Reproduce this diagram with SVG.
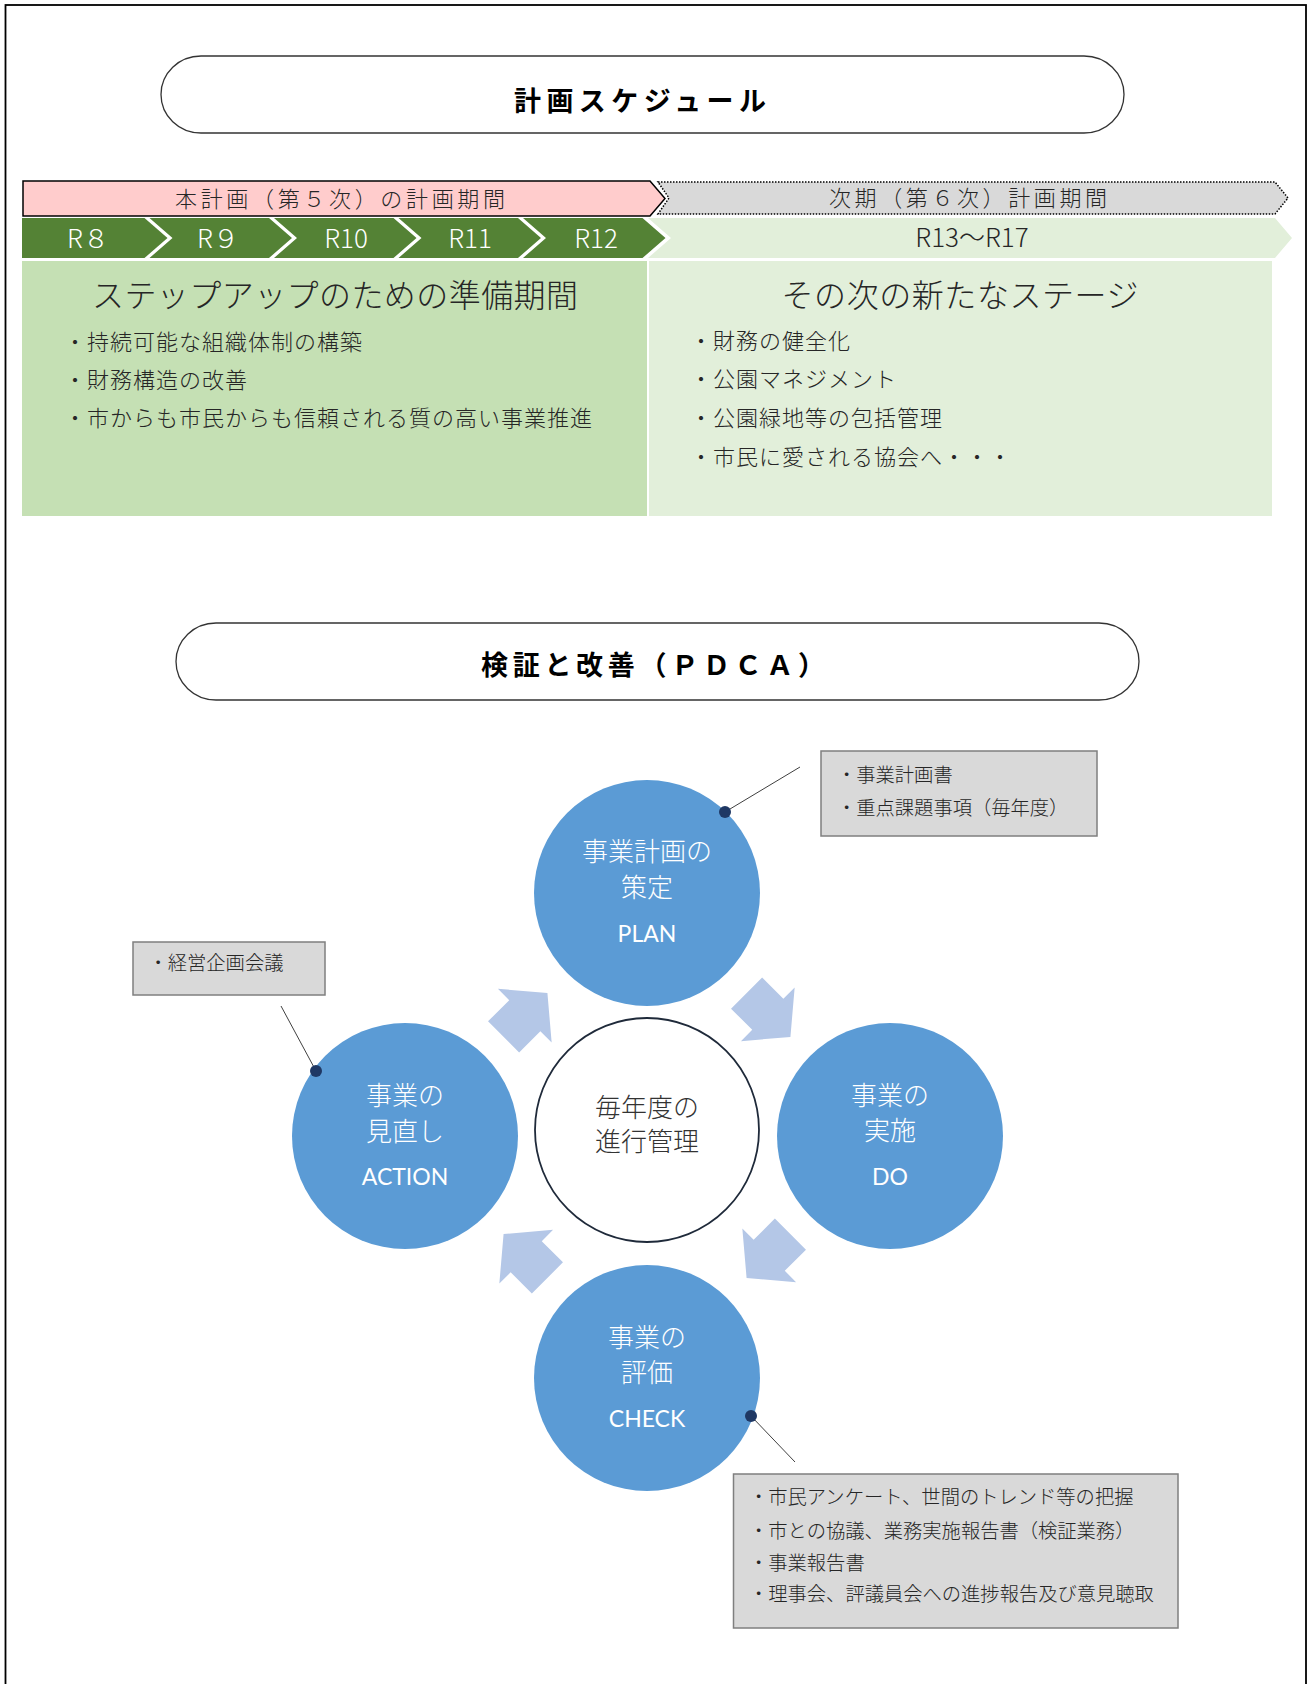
<svg xmlns="http://www.w3.org/2000/svg" width="1310" height="1684" viewBox="0 0 1310 1684">
<defs>
<style>
.jp{font-family:"Noto Sans CJK JP","Noto Sans",sans-serif;}
.title{font-family:"Noto Sans CJK JP",sans-serif;font-weight:700;font-size:27px;fill:#000;}
.pill{fill:#fff;stroke:#333;stroke-width:1.3;}
.bar{font-family:"Noto Sans CJK JP",sans-serif;font-weight:300;font-size:22px;fill:#262626;}
.yr{font-family:"Noto Sans CJK JP",sans-serif;font-weight:300;font-size:26px;fill:#fff;text-anchor:middle;}
.yr2{font-family:"Noto Sans CJK JP",sans-serif;font-weight:300;font-size:26px;fill:#262626;text-anchor:middle;}
.head{font-family:"Noto Sans CJK JP",sans-serif;font-weight:300;font-size:32px;fill:#262626;text-anchor:middle;}
.bul{font-family:"Noto Sans CJK JP",sans-serif;font-weight:300;font-size:22px;fill:#262626;letter-spacing:1px;}
.seg{fill:#548235;}
.circ{fill:#5B9BD5;}
.ctx{font-family:"Noto Sans CJK JP",sans-serif;font-weight:300;font-size:26px;fill:#fff;text-anchor:middle;}
.lat{font-family:"Lato","Noto Sans",sans-serif;font-size:23px;fill:#fff;text-anchor:middle;}
.call{fill:#D9D9D9;stroke:#7F7F7F;stroke-width:1.5;}
.ctext{font-family:"Noto Sans CJK JP",sans-serif;font-weight:300;font-size:19.3px;fill:#262626;}
.lead{stroke:#404040;stroke-width:1;fill:none;}
.dot{fill:#1F3864;}
.arr{fill:#B4C7E7;}
</style>
<polygon id="arrowShape" points="-31,-22 -1,-22 -1,-38 31,0 -1,38 -1,22 -31,22"/>
</defs>

<rect x="5.5" y="5" width="1300.5" height="1700" fill="#fff" stroke="#000" stroke-width="1.8"/>

<g id="title-schedule">
<rect class="pill" x="161" y="56" width="963" height="77" rx="40" ry="38.5"/>
<text class="title" x="514" y="111" textLength="252" lengthAdjust="spacing">計画スケジュール</text>
</g>

<g id="period-current">
<path d="M23,181 H650 L665,198.5 L650,216 H23 Z" fill="#FFCCCC" stroke="#000" stroke-width="1.5"/>
<text class="bar" x="175" y="206.5" textLength="330" lengthAdjust="spacing">本計画（第５次）の計画期間</text>
</g>

<g id="period-next">
<path d="M658,182 H1275 L1288,198 L1275,214 H658 L669,198 Z" fill="#D9D9D9" stroke="#000" stroke-width="1.5" stroke-dasharray="1.5,1.5"/>
<text class="bar" x="829" y="205.5" textLength="278" lengthAdjust="spacing">次期（第６次）計画期間</text>
</g>

<g id="years">
<path class="seg" d="M22,218 H144.5 L167.5,238 L144.5,258 H22 Z"/>
<path class="seg" d="M149.5,218 H269 L292,238 L269,258 H149.5 L172.5,238 Z"/>
<path class="seg" d="M274,218 H393.5 L416.5,238 L393.5,258 H274 L297,238 Z"/>
<path class="seg" d="M398.5,218 H518 L541,238 L518,258 H398.5 L421.5,238 Z"/>
<path class="seg" d="M523,218 H642.5 L665.5,238 L642.5,258 H523 L546,238 Z"/>
<path d="M648,218 H1275 L1292,238 L1275,258 H648 L671,238 Z" fill="#E2EFDA"/>
<text class="yr" x="88" y="247.5">R８</text>
<text class="yr" x="218" y="247.5">R９</text>
<text class="yr" x="346" y="247.5">R10</text>
<text class="yr" x="470" y="247.5">R11</text>
<text class="yr" x="596" y="247.5">R12</text>
<text class="yr2" x="972" y="247">R13～R17</text>
</g>

<g id="stage-current">
<rect x="22" y="261" width="625" height="255" fill="#C5E0B4"/>
<text class="head" x="335" y="307" textLength="486" lengthAdjust="spacing">ステップアップのための準備期間</text>
<text class="bul" x="64" y="349.5">・持続可能な組織体制の構築</text>
<text class="bul" x="64" y="387.5">・財務構造の改善</text>
<text class="bul" x="64" y="425.5">・市からも市民からも信頼される質の高い事業推進</text>
</g>

<g id="stage-next">
<rect x="649" y="261" width="623" height="255" fill="#E2EFDA"/>
<text class="head" x="960" y="307" textLength="357" lengthAdjust="spacing">その次の新たなステージ</text>
<text class="bul" x="690" y="348.5">・財務の健全化</text>
<text class="bul" x="690" y="386.5">・公園マネジメント</text>
<text class="bul" x="690" y="425.5">・公園緑地等の包括管理</text>
<text class="bul" x="690" y="464.5">・市民に愛される協会へ・・・</text>
</g>

<g id="title-pdca">
<rect class="pill" x="176" y="623" width="963" height="77" rx="40" ry="38.5"/>
<text class="title" x="481" y="675" textLength="344" lengthAdjust="spacing">検証と改善（ＰＤＣＡ）</text>
</g>

<g id="connectors">
<use href="#arrowShape" class="arr" transform="translate(525.5,1015) rotate(-45)"/>
<use href="#arrowShape" class="arr" transform="translate(768.5,1015) rotate(45)"/>
<use href="#arrowShape" class="arr" transform="translate(768.5,1256) rotate(135)"/>
<use href="#arrowShape" class="arr" transform="translate(525.5,1256) rotate(-135)"/>
<line class="lead" x1="725" y1="812" x2="800" y2="767"/>
<line class="lead" x1="316" y1="1071" x2="281" y2="1006"/>
<line class="lead" x1="751" y1="1416" x2="795" y2="1462"/>
</g>

<g id="center">
<circle cx="647" cy="1130" r="112" fill="#fff" stroke="#1F2A3A" stroke-width="1.8"/>
<text class="jp" x="647" y="1117" font-size="26" font-weight="300" fill="#333" text-anchor="middle">毎年度の</text>
<text class="jp" x="647" y="1151" font-size="26" font-weight="300" fill="#333" text-anchor="middle">進行管理</text>
</g>

<g id="plan">
<circle class="circ" cx="647" cy="893" r="113"/>
<text class="ctx" x="647" y="861">事業計画の</text>
<text class="ctx" x="647" y="897">策定</text>
<text class="lat" x="647" y="942">PLAN</text>
<circle class="dot" cx="725" cy="812" r="6"/>
</g>

<g id="do">
<circle class="circ" cx="890" cy="1136" r="113"/>
<text class="ctx" x="890" y="1105">事業の</text>
<text class="ctx" x="890" y="1140">実施</text>
<text class="lat" x="890" y="1185">DO</text>
</g>

<g id="check">
<circle class="circ" cx="647" cy="1378" r="113"/>
<text class="ctx" x="647" y="1347">事業の</text>
<text class="ctx" x="647" y="1382">評価</text>
<text class="lat" x="647" y="1427">CHECK</text>
<circle class="dot" cx="751" cy="1416" r="6"/>
</g>

<g id="action">
<circle class="circ" cx="405" cy="1136" r="113"/>
<text class="ctx" x="405" y="1105">事業の</text>
<text class="ctx" x="405" y="1141">見直し</text>
<text class="lat" x="405" y="1185">ACTION</text>
<circle class="dot" cx="316" cy="1071" r="6"/>
</g>

<g id="note-plan">
<rect class="call" x="821" y="751" width="276" height="85"/>
<text class="ctext" x="837" y="782">・事業計画書</text>
<text class="ctext" x="837" y="815">・重点課題事項（毎年度）</text>
</g>

<g id="note-action">
<rect class="call" x="133" y="942" width="192" height="53"/>
<text class="ctext" x="148.5" y="970">・経営企画会議</text>
</g>

<g id="note-check">
<rect class="call" x="733.5" y="1474" width="444.5" height="154"/>
<text class="ctext" x="749" y="1504">・市民アンケート、世間のトレンド等の把握</text>
<text class="ctext" x="749" y="1538">・市との協議、業務実施報告書（検証業務）</text>
<text class="ctext" x="749" y="1570">・事業報告書</text>
<text class="ctext" x="749" y="1601">・理事会、評議員会への進捗報告及び意見聴取</text>
</g>
</svg>
